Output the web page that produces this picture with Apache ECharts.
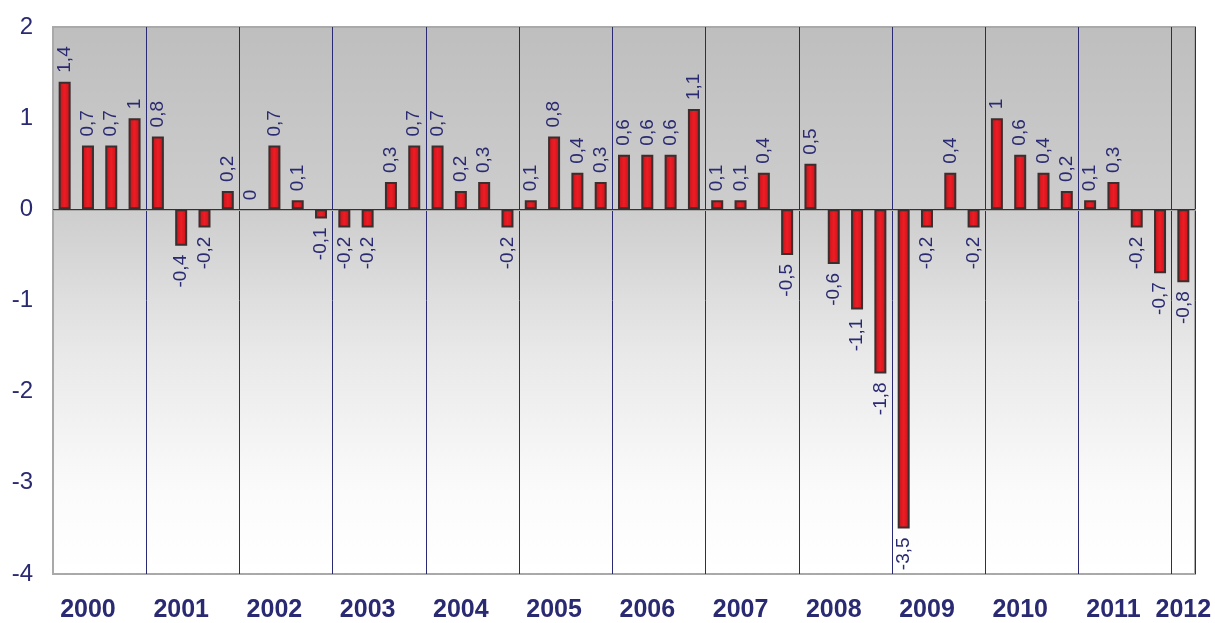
<!DOCTYPE html>
<html>
<head>
<meta charset="utf-8">
<script src="https://cdn.jsdelivr.net/npm/echarts@6/dist/echarts.min.js"></script>
<style>html,body{margin:0;padding:0;background:#fff}#c{width:1215px;height:623px}</style>
</head>
<body>
<div id="c"></div>
<script>
var years = ['2000','2001','2002','2003','2004','2005','2006','2007','2008','2009','2010','2011','2012'];
var values2000 = [1.4, 0.7, 0.7, 1];
var values2001 = [0.8, -0.4, -0.2, 0.2];
var values2002 = [0, 0.7, 0.1, -0.1];
var values2003 = [-0.2, -0.2, 0.3, 0.7];
var values2004 = [0.7, 0.2, 0.3, -0.2];
var values2005 = [0.1, 0.8, 0.4, 0.3];
var values2006 = [0.6, 0.6, 0.6, 1.1];
var values2007 = [0.1, 0.1, 0.4, -0.5];
var values2008 = [0.5, -0.6, -1.1, -1.8];
var values2009 = [-3.5, -0.2, 0.4, -0.2];
var values2010 = [1, 0.6, 0.4, 0.2];
var values2011 = [0.1, 0.3, -0.2, -0.7];
var values2012 = [-0.8];
var yTicks = [-4, -3, -2, -1, 0, 1, 2];

var perYear = [values2000, values2001, values2002, values2003, values2004, values2005, values2006,
  values2007, values2008, values2009, values2010, values2011, values2012];
var categories = [];
var values = [];
perYear.forEach(function (arr, yi) {
  arr.forEach(function (v, qi) {
    categories.push(years[yi] + ' Q' + (qi + 1));
    values.push(v);
  });
});
var navy = '#2a2a72';
var data = values.map(function (v) {
  var item = {
    value: v,
    label: v < 0 ? { position: 'bottom', align: 'right' } : { position: 'top', align: 'left' }
  };
  if (v === 0) item.itemStyle = { borderWidth: 0, color: 'rgba(0,0,0,0)' };
  return item;
});

var chart = echarts.init(document.getElementById('c'), null, { renderer: 'canvas' });
chart.setOption({
  backgroundColor: '#ffffff',
  animation: false,
  grid: {
    left: 53, right: 20, top: 27, bottom: 48,
    show: true,
    borderColor: '#a9a9a9',
    borderWidth: 2,
    backgroundColor: {
      type: 'linear', x: 0, y: 0, x2: 0, y2: 1,
      colorStops: [
        { offset: 0, color: '#bebebe' },
        { offset: 0.33, color: '#cdcdcd' },
        { offset: 0.6, color: '#e9e9e9' },
        { offset: 0.85, color: '#fbfbfb' },
        { offset: 1, color: '#ffffff' }
      ]
    }
  },
  xAxis: {
    type: 'category',
    data: categories,
    boundaryGap: true,
    axisLine: { show: true, lineStyle: { color: '#a9a9a9', width: 2 } },
    axisTick: { show: false },
    splitLine: {
      show: true,
      interval: function (index) { return index % 4 === 0 && index > 0; },
      lineStyle: { color: navy, width: 1 }
    },
    axisLabel: {
      interval: function (index) { return index % 4 === 1 || index === categories.length - 1; },
      formatter: function (v) { return v.split(' ')[0]; },
      color: navy,
      fontFamily: 'Liberation Sans',
      fontWeight: 'bold',
      fontSize: 25,
      margin: 24
    }
  },
  yAxis: {
    type: 'value',
    min: yTicks[0],
    max: yTicks[yTicks.length - 1],
    interval: 1,
    axisLine: { show: false },
    axisTick: { show: false },
    splitLine: { show: false },
    axisLabel: {
      color: navy,
      fontFamily: 'Liberation Sans',
      fontSize: 24,
      margin: 20
    }
  },
  series: [{
    type: 'bar',
    data: data,
    barWidth: 12,
    itemStyle: {
      color: {
        type: 'linear', x: 0, y: 0, x2: 1, y2: 0,
        colorStops: [
          { offset: 0, color: '#c0141a' },
          { offset: 0.5, color: '#ee1c24' },
          { offset: 1, color: '#c0141a' }
        ]
      },
      borderColor: '#3a2e2e',
      borderWidth: 2
    },
    label: {
      show: true,
      rotate: 90,
      distance: 9,
      verticalAlign: 'middle',
      color: navy,
      fontFamily: 'Liberation Sans',
      fontSize: 19,
      formatter: function (p) { return String(p.value).replace('.', ','); }
    },
    markLine: {
      silent: true,
      symbol: 'none',
      label: { show: false },
      lineStyle: { color: navy, width: 1, type: 'solid' },
      data: [{ yAxis: 0 }]
    }
  }]
});
</script>
</body>
</html>
